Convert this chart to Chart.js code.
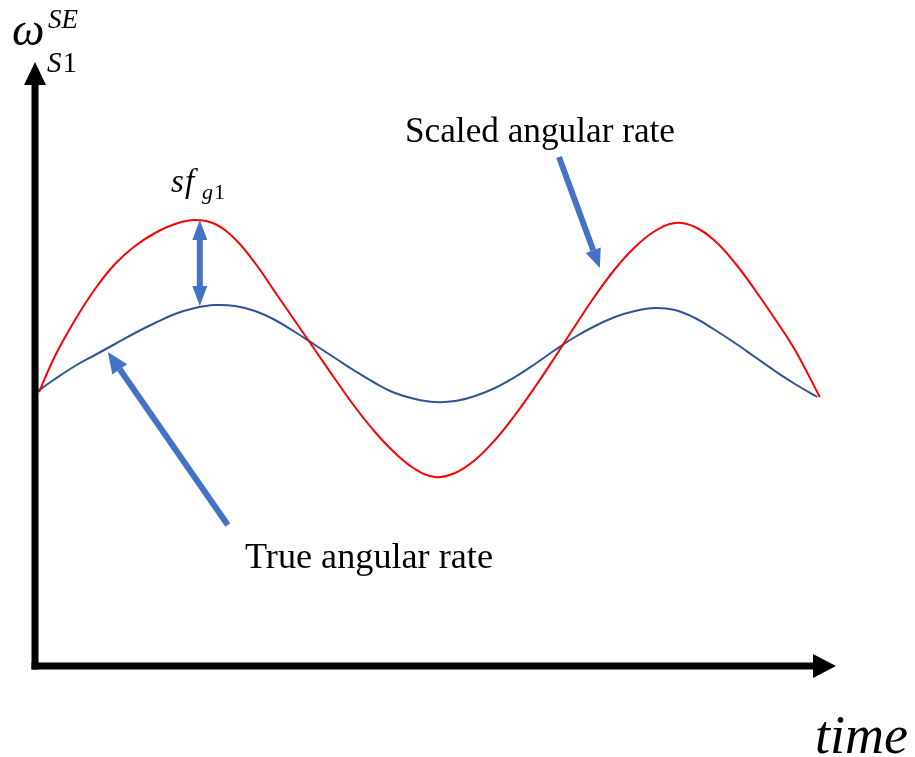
<!DOCTYPE html>
<html>
<head>
<meta charset="utf-8">
<script src="https://cdn.jsdelivr.net/npm/chart.js@4"></script>
<style>
html,body{margin:0;padding:0;background:#fff;}
#wrap{width:915px;height:757px;position:relative;}
</style>
</head>
<body>
<div id="wrap"><canvas id="c"></canvas></div>
<script>
// ---- data (time in s, angular rate in arbitrary units) ----
const scaledTime = [0.05,0.25,0.5,0.75,1.0,1.25,1.5,1.75,2.0,2.25,2.5,2.75,3.0,3.25,3.5,3.75,4.0,4.25,4.5,4.75,5.0,5.25,5.5,5.75,6.0,6.25,6.5,6.75,7.0,7.25,7.5,7.75,8.0,8.25,8.5,8.75,9.0,9.25,9.5,9.81];
const scaledRate = [0.00,0.36,0.72,1.03,1.28,1.46,1.59,1.68,1.72,1.68,1.53,1.29,1.00,0.71,0.42,0.13,-0.15,-0.40,-0.61,-0.77,-0.85,-0.81,-0.68,-0.48,-0.23,0.05,0.35,0.66,0.96,1.23,1.45,1.61,1.69,1.65,1.51,1.29,1.02,0.73,0.42,-0.05];
const trueTime = [0.0,0.25,0.5,0.75,1.0,1.25,1.5,1.75,2.0,2.25,2.5,2.75,3.0,3.25,3.5,3.75,4.0,4.25,4.5,4.75,5.0,5.25,5.5,5.75,6.0,6.25,6.5,6.75,7.0,7.25,7.5,7.75,8.0,8.25,8.5,8.75,9.0,9.25,9.5,9.78];
const trueRate = [-0.01,0.13,0.26,0.37,0.48,0.59,0.69,0.78,0.84,0.87,0.86,0.81,0.72,0.60,0.47,0.34,0.21,0.09,-0.01,-0.07,-0.10,-0.09,-0.04,0.04,0.15,0.28,0.42,0.55,0.66,0.75,0.81,0.84,0.82,0.74,0.62,0.49,0.35,0.21,0.08,-0.05];
const seriesLabels = ["Scaled angular rate", "True angular rate"];
// annotation anchors in data units: [tail t, tail value, tip t, tip value]
const scaledArrow = [6.55, 2.35, 7.06, 1.24];
const trueArrow = [2.41, -1.33, 0.91, 0.40];
const sfArrow = [2.06, 1.72, 2.06, 0.86];

const toPts = (xs, ys) => xs.map((x, i) => ({x: x, y: ys[i]}));

function arrowHead(ctx, x1, y1, x2, y2, len, half) {
  const a = Math.atan2(y2 - y1, x2 - x1);
  const bx = x2 - len * Math.cos(a), by = y2 - len * Math.sin(a);
  ctx.beginPath();
  ctx.moveTo(x2, y2);
  ctx.lineTo(bx + half * Math.sin(a), by - half * Math.cos(a));
  ctx.lineTo(bx - half * Math.sin(a), by + half * Math.cos(a));
  ctx.closePath();
  ctx.fill();
  return [bx, by];
}
function arrow(ctx, x1, y1, x2, y2, w, len, half, color, both) {
  ctx.save();
  ctx.strokeStyle = color; ctx.fillStyle = color; ctx.lineWidth = w; ctx.lineCap = 'butt';
  const [bx, by] = arrowHead(ctx, x1, y1, x2, y2, len, half);
  let sx = x1, sy = y1;
  if (both) { [sx, sy] = arrowHead(ctx, x2, y2, x1, y1, len, half); }
  ctx.beginPath(); ctx.moveTo(sx, sy); ctx.lineTo(bx, by); ctx.stroke();
  ctx.restore();
}
function fitText(ctx, text, style, family, target, x, y) {
  ctx.font = style + ' 100px ' + family;
  const w = ctx.measureText(text).width;
  const size = 100 * target / w;
  ctx.font = style + ' ' + size.toFixed(2) + 'px ' + family;
  ctx.fillText(text, x, y);
}

const overlay = {
  id: 'overlay',
  afterDraw(chart) {
    const ctx = chart.ctx, ca = chart.chartArea;
    const xs = chart.scales.x, ys = chart.scales.y;
    const px = v => xs.getPixelForValue(v), py = v => ys.getPixelForValue(v);
    ctx.save();
    // axes
    ctx.fillStyle = '#000'; ctx.strokeStyle = '#000';
    ctx.lineWidth = 7;
    ctx.beginPath();
    ctx.moveTo(ca.left, ca.bottom + 3.5);
    ctx.lineTo(ca.left, ca.top + 8);
    ctx.stroke();
    ctx.beginPath();
    ctx.moveTo(ca.left - 3.5, ca.bottom);
    ctx.lineTo(ca.right - 20, ca.bottom);
    ctx.stroke();
    ctx.beginPath();
    ctx.moveTo(ca.left, ca.top - 13);
    ctx.lineTo(ca.left - 11, ca.top + 10);
    ctx.lineTo(ca.left + 11, ca.top + 10);
    ctx.closePath(); ctx.fill();
    ctx.beginPath();
    ctx.moveTo(ca.right + 1, ca.bottom);
    ctx.lineTo(ca.right - 22, ca.bottom - 12);
    ctx.lineTo(ca.right - 22, ca.bottom + 12);
    ctx.closePath(); ctx.fill();

    // blue annotation arrows
    const blue = '#4472C4';
    arrow(ctx, px(sfArrow[0]), py(sfArrow[1]), px(sfArrow[2]), py(sfArrow[3]), 6, 20, 7.5, blue, true);
    arrow(ctx, px(scaledArrow[0]), py(scaledArrow[1]), px(scaledArrow[2]), py(scaledArrow[3]), 6, 19, 8, blue, false);
    arrow(ctx, px(trueArrow[0]), py(trueArrow[1]), px(trueArrow[2]), py(trueArrow[3]), 6, 21, 9, blue, false);

    // texts
    ctx.fillStyle = '#000';
    ctx.textBaseline = 'alphabetic'; ctx.textAlign = 'left';
    const serif = '"Liberation Serif", "DejaVu Serif", serif';
    fitText(ctx, seriesLabels[0], 'normal', serif, 270, 405, 142);
    fitText(ctx, seriesLabels[1], 'normal', serif, 248, 245, 568);

    const math = '"Liberation Serif", serif';
    // omega label
    ctx.font = 'italic 46px ' + math;
    ctx.fillText('ω', 12, 45);
    ctx.font = 'italic 27px ' + math;
    ctx.fillText('SE', 48, 28);
    ctx.font = 'italic 29px ' + math;
    ctx.fillText('S', 47, 72);
    let sw = ctx.measureText('S').width;
    ctx.font = 'normal 29px ' + math;
    ctx.fillText('1', 48 + sw, 72);
    // sf_g1
    ctx.font = 'italic 33px ' + math;
    ctx.fillText('s', 171, 192);
    ctx.fillText('f', 185, 192);
    ctx.font = 'italic 22px ' + math;
    ctx.fillText('g', 202, 199);
    const gw = ctx.measureText('g').width;
    ctx.font = 'normal 22px ' + math;
    ctx.fillText('1', 203 + gw, 199);
    // time
    fitText(ctx, 'time', 'italic', math, 93, 815, 753);
    ctx.restore();
  }
};

new Chart(document.getElementById('c'), {
  type: 'line',
  data: {
    datasets: [
      {label: seriesLabels[0], data: toPts(scaledTime, scaledRate), borderColor: '#FF0000', borderWidth: 2, pointRadius: 0, tension: 0.4, fill: false},
      {label: seriesLabels[1], data: toPts(trueTime, trueRate), borderColor: '#2F5597', borderWidth: 2, pointRadius: 0, tension: 0.4, fill: false}
    ]
  },
  options: {
    responsive: true,
    maintainAspectRatio: false,
    animation: false,
    layout: {padding: {left: 35, right: 80, top: 75, bottom: 91}},
    scales: {
      x: {type: 'linear', min: 0, max: 10, display: false},
      y: {min: -2.74, max: 3.17, display: false}
    },
    plugins: {legend: {display: false}, tooltip: {enabled: false}}
  },
  plugins: [overlay]
});
</script>
</body>
</html>
